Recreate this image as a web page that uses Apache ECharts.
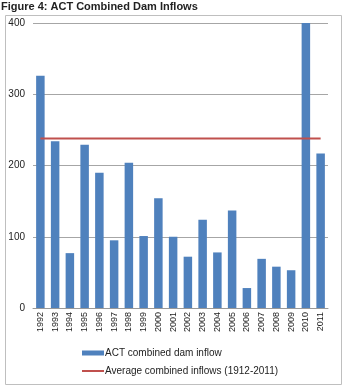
<!DOCTYPE html>
<html>
<head>
<meta charset="utf-8">
<script src="https://cdn.jsdelivr.net/npm/echarts@6/dist/echarts.min.js"></script>
<style>
  html, body { margin: 0; padding: 0; background: #fff; }
  #chart { width: 343px; height: 391px; }
</style>
</head>
<body>
<div id="chart"></div>
<script>
// 年份
const years = ['1992', '1993', '1994', '1995', '1996', '1997', '1998', '1999', '2000', '2001',
  '2002', '2003', '2004', '2005', '2006', '2007', '2008', '2009', '2010', '2011']
// 每年入库量
const inflows = [326, 234, 77, 229, 190, 95, 204, 101, 154, 100,
  72, 124, 78, 137, 28, 69, 58, 53, 400, 217]
// 长期平均值
const averageValue = 238
const averageLine = years.map(() => averageValue)
const yTicks = [0, 100, 200, 300, 400]

const font = '"Liberation Sans", Arial, sans-serif'
var myChart = echarts.init(document.getElementById('chart'))
myChart.setOption({
  animation: false,
  textStyle: { fontFamily: font },
  graphic: [
    {
      type: 'text', left: 1, top: 1,
      style: { text: 'Figure 4: ACT Combined Dam Inflows', font: 'bold 11px ' + font, fill: '#222' }
    },
    {
      type: 'rect', left: 3, top: 13, z: -1,
      shape: { width: 336, height: 369 },
      style: { fill: 'none', stroke: '#bfbfbf', lineWidth: 1 }
    }
  ],
  legend: {
    orient: 'vertical',
    left: 77,
    top: 343,
    itemGap: 8,
    itemWidth: 22,
    itemHeight: 5,
    textStyle: { fontSize: 10, color: '#222', padding: [0, 0, 0, -4] },
    data: [
      { name: 'ACT combined dam inflow', icon: 'rect' },
      { name: 'Average combined inflows (1912-2011)', icon: 'path://M0,0 L11,0 L11,1 L0,1 Z' }
    ]
  },
  grid: { left: 33, right: 15, top: 23, bottom: 83 },
  xAxis: {
    type: 'category',
    data: years,
    axisLine: { lineStyle: { color: '#999' } },
    axisTick: { show: false },
    axisLabel: { rotate: 90, fontSize: 9, color: '#222', margin: 4, interval: 0 }
  },
  yAxis: {
    type: 'value',
    min: yTicks[0],
    max: yTicks[yTicks.length - 1],
    interval: 100,
    axisLine: { show: false },
    axisTick: { show: false },
    axisLabel: { fontSize: 10, color: '#222', margin: 8 },
    splitLine: { lineStyle: { color: '#a6a6a6' } }
  },
  series: [
    {
      name: 'ACT combined dam inflow',
      type: 'bar',
      data: inflows,
      barWidth: 8.5,
      itemStyle: { color: '#4f81bd' }
    },
    {
      name: 'Average combined inflows (1912-2011)',
      type: 'line',
      data: averageLine,
      symbol: 'none',
      lineStyle: { color: '#c0504d', width: 2 },
      itemStyle: { color: '#c0504d' }
    }
  ]
})
</script>
</body>
</html>
